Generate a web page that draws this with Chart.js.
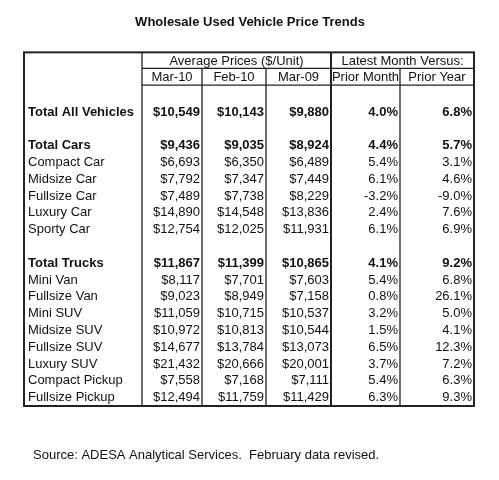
<!DOCTYPE html>
<html><head><meta charset="utf-8">
<script src="https://cdn.jsdelivr.net/npm/chart.js@4"></script>
<style>html,body{margin:0;padding:0;background:#fff}canvas{display:block}</style>
</head><body>
<canvas id="c" width="499" height="480"></canvas>
<script>
const title = "Wholesale Used Vehicle Price Trends";
const groupHeaders = ["Average Prices ($/Unit)", "Latest Month Versus:"];
const columnHeaders = ["Mar-10", "Feb-10", "Mar-09", "Prior Month", "Prior Year"];
const categories = ["Total All Vehicles","Total Cars","Compact Car","Midsize Car","Fullsize Car","Luxury Car","Sporty Car","Total Trucks","Mini Van","Fullsize Van","Mini SUV","Midsize SUV","Fullsize SUV","Luxury SUV","Compact Pickup","Fullsize Pickup"];
const rowIndex = [0,2,3,4,5,6,7,9,10,11,12,13,14,15,16,17];
const boldRows = ["Total All Vehicles","Total Cars","Total Trucks"];
const mar10 = [10549,9436,6693,7792,7489,14890,12754,11867,8117,9023,11059,10972,14677,21432,7558,12494];
const feb10 = [10143,9035,6350,7347,7738,14548,12025,11399,7701,8949,10715,10813,13784,20666,7168,11759];
const mar09 = [9880,8924,6489,7449,8229,13836,11931,10865,7603,7158,10537,10544,13073,20001,7111,11429];
const priorMonth = [4.0,4.4,5.4,6.1,-3.2,2.4,6.1,4.1,5.4,0.8,3.2,1.5,6.5,3.7,5.4,6.3];
const priorYear = [6.8,5.7,3.1,4.6,-9.0,7.6,6.9,9.2,6.8,26.1,5.0,4.1,12.3,7.2,6.3,9.3];
const source = "Source: ADESA Analytical Services.  February data revised.";

const colEdges = [24,142,202,266,331,400,474];
const money = v => "$" + v.toLocaleString("en-US");
const pct = v => v.toFixed(1) + "%";

const tablePlugin = {
  id: "table",
  afterDraw(chart) {
    const ctx = chart.ctx, X = v => chart.scales.x.getPixelForValue(v), Y = v => chart.scales.y.getPixelForValue(v);
    const F = "Liberation Sans, Arial, sans-serif";
    ctx.save();
    ctx.fillStyle = "#111"; ctx.strokeStyle = "#222";
    ctx.textBaseline = "middle";
    ctx.font = "bold 13px " + F; ctx.textAlign = "center";
    ctx.fillText(title, X(250), Y(-5.35));
    const top = Y(-3.55), h1 = Y(-2.6), h2 = Y(-1.6), bot = Y(17.5);
    const line = (x1,y1,x2,y2,w)=>{ctx.lineWidth=w;ctx.beginPath();ctx.moveTo(x1,y1);ctx.lineTo(x2,y2);ctx.stroke();};
    ctx.lineWidth = 2; ctx.strokeRect(X(colEdges[0]), top, X(colEdges[6])-X(colEdges[0]), bot-top);
    line(X(colEdges[1]), top, X(colEdges[1]), bot, 1.3);
    line(X(colEdges[4]), top, X(colEdges[4]), bot, 2);
    line(X(colEdges[2]), h1, X(colEdges[2]), bot, 1.3);
    line(X(colEdges[3]), h1, X(colEdges[3]), bot, 1.3);
    line(X(colEdges[5]), h1, X(colEdges[5]), bot, 1.3);
    line(X(colEdges[1]), h1, X(colEdges[6]), h1, 1.3);
    line(X(colEdges[1]), h2, X(colEdges[6]), h2, 1.3);
    ctx.font = "13px " + F; ctx.textAlign = "center";
    ctx.fillText(groupHeaders[0], (X(colEdges[1])+X(colEdges[4]))/2, (top+h1)/2+1);
    ctx.fillText(groupHeaders[1], (X(colEdges[4])+X(colEdges[6]))/2, (top+h1)/2+1);
    columnHeaders.forEach((t,i)=>ctx.fillText(t,(X(colEdges[i+1])+X(colEdges[i+2]))/2,(h1+h2)/2+1));
    const cols = [mar10.map(money), feb10.map(money), mar09.map(money), priorMonth.map(pct), priorYear.map(pct)];
    categories.forEach((c,r)=>{
      const y = Y(rowIndex[r]);
      ctx.font = (boldRows.includes(c) ? "bold " : "") + "13px " + F;
      ctx.textAlign = "left"; ctx.fillText(c, X(28), y);
      ctx.textAlign = "right";
      cols.forEach((col,i)=>ctx.fillText(col[r], X(colEdges[i+2]) - 2, y));
    });
    ctx.font = "13px " + F; ctx.textAlign = "left";
    ctx.fillText(source, X(33), Y(20.45));
    ctx.restore();
  }
};

new Chart(document.getElementById("c"), {
  type: "scatter",
  data: { datasets: [{ data: categories.map((c,r)=>({x: colEdges[2], y: rowIndex[r]})), pointRadius: 0 }] },
  options: {
    responsive: false, animation: false,
    layout: { padding: 0 },
    plugins: { legend: { display: false }, tooltip: { enabled: false } },
    scales: {
      x: { type: "linear", display: false, min: 0, max: 499 },
      y: { type: "linear", display: false, reverse: true, min: -112/16.8, max: 368/16.8 }
    }
  },
  plugins: [tablePlugin]
});
</script>
</body></html>
